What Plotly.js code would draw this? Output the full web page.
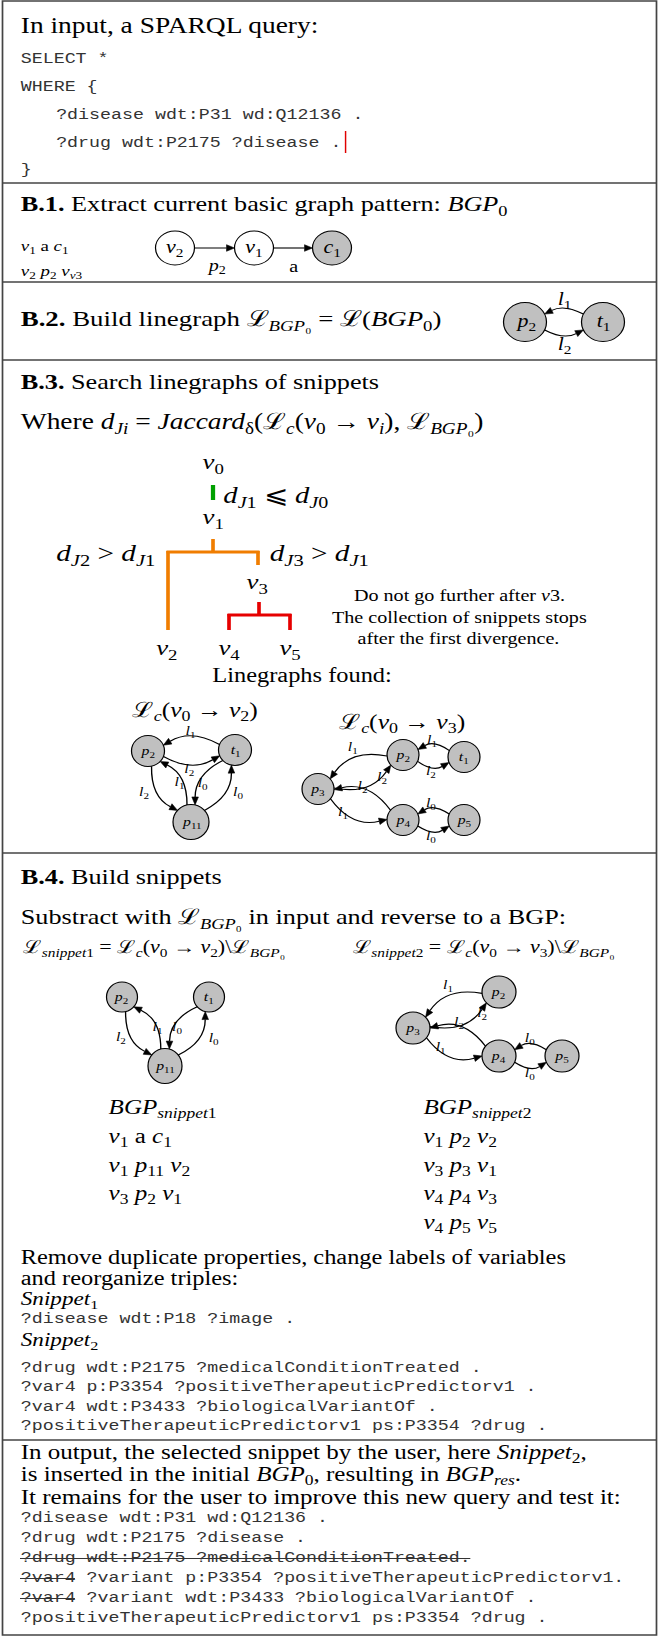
<!DOCTYPE html>
<html><head><meta charset="utf-8">
<script src="https://cdn.plot.ly/plotly-3.0.1.min.js"></script>
<style>
html,body{margin:0;padding:0;background:#fff;}
#wrap{width:659px;height:1636px;overflow:hidden;}
#plot{width:540px;height:1636px;transform:scaleX(1.22037);transform-origin:0 0;}
</style></head><body><div id="wrap"><div id="plot"></div></div>
<script>
// ---------------- data (text content, graph structure) ----------------
const inputHeading = "In input, a SPARQL query:";
const inputQuery = ["SELECT *", "WHERE {", "?disease wdt:P31 wd:Q12136 .", "?drug wdt:P2175 ?disease .", "}"];
const inputIndent = [0, 0, 1, 1, 0];

const headB1 = "<b>B.1.</b> Extract current basic graph pattern: <i>BGP</i><sub>0</sub>";
const bgp0Triples = ["<i>v</i><sub>1</sub> a <i>c</i><sub>1</sub>", "<i>v</i><sub>2</sub> <i>p</i><sub>2</sub> <i>v</i><sub><i>v</i>3</sub>"];
const bgp0Nodes = ["v2", "v1", "c1"];
const bgp0Edges = [["v2", "v1", "p2"], ["v1", "c1", "a"]];

const headB2 = "<b>B.2.</b> Build linegraph ℒ<sub><i>BGP</i>₀</sub> = ℒ(<i>BGP</i><sub>0</sub>)";
const lgB2Nodes = ["p2", "t1"];
const lgB2Edges = [["t1", "p2", "l1"], ["p2", "t1", "l2"]];

const headB3 = "<b>B.3.</b> Search linegraphs of snippets";
const whereLine = "Where <i>d</i><sub><i>Ji</i></sub> = <i>Jaccard</i><sub>δ</sub>(ℒ<sub><i>c</i></sub>(<i>v</i><sub>0</sub> → <i>v</i><sub><i>i</i></sub>), ℒ<sub><i>BGP</i>₀</sub>)";
const treeVertices = ["v0", "v1", "v3", "v2", "v4", "v5"];
const treeConditions = ["<i>d</i><sub><i>J</i>1</sub> ⩽ <i>d</i><sub><i>J</i>0</sub>",
                        "<i>d</i><sub><i>J</i>2</sub> > <i>d</i><sub><i>J</i>1</sub>",
                        "<i>d</i><sub><i>J</i>3</sub> > <i>d</i><sub><i>J</i>1</sub>"];
const noteLines = ["Do not go further after <i>v</i>3.", "The collection of snippets stops", "after the first divergence."];
const foundHeading = "Linegraphs found:";
const lgTitles = ["ℒ<sub><i>c</i></sub>(<i>v</i><sub>0</sub> → <i>v</i><sub>2</sub>)", "ℒ<sub><i>c</i></sub>(<i>v</i><sub>0</sub> → <i>v</i><sub>3</sub>)"];
const lg1Nodes = ["p2", "t1", "p11"];
const lg1Edges = [["t1", "p2", "l1"], ["p2", "t1", "l2"], ["p2", "p11", "l2"], ["p11", "p2", "l1"], ["t1", "p11", "l0"], ["p11", "t1", "l0"]];
const lg2Nodes = ["p2", "t1", "p3", "p4", "p5"];
const lg2Edges = [["p2", "p3", "l1"], ["p3", "p2", "l2"], ["t1", "p2", "l1"], ["p2", "t1", "l2"], ["p4", "p3", "l2"], ["p3", "p4", "l1"], ["p5", "p4", "l0"], ["p4", "p5", "l0"]];

const headB4 = "<b>B.4.</b> Build snippets";
const subtractLine = "Substract with ℒ<sub><i>BGP</i>₀</sub> in input and reverse to a BGP:";
const snippetFormulas = ["ℒ<sub><i>snippet</i>1</sub> = ℒ<sub><i>c</i></sub>(<i>v</i><sub>0</sub> → <i>v</i><sub>2</sub>)\\ℒ<sub><i>BGP</i>₀</sub>",
                         "ℒ<sub><i>snippet</i>2</sub> = ℒ<sub><i>c</i></sub>(<i>v</i><sub>0</sub> → <i>v</i><sub>3</sub>)\\ℒ<sub><i>BGP</i>₀</sub>"];
const snip1Nodes = ["p2", "t1", "p11"];
const snip1Edges = [["p2", "p11", "l2"], ["p11", "p2", "l1"], ["t1", "p11", "l0"], ["p11", "t1", "l0"]];
const snip2Nodes = ["p2", "p3", "p4", "p5"];
const snip2Edges = [["p2", "p3", "l1"], ["p3", "p2", "l2"], ["p4", "p3", "l2"], ["p3", "p4", "l1"], ["p5", "p4", "l0"], ["p4", "p5", "l0"]];
const bgpSnippet1 = ["<i>BGP</i><sub><i>snippet</i>1</sub>", "<i>v</i><sub>1</sub> a <i>c</i><sub>1</sub>",
                     "<i>v</i><sub>1</sub> <i>p</i><sub>11</sub> <i>v</i><sub>2</sub>", "<i>v</i><sub>3</sub> <i>p</i><sub>2</sub> <i>v</i><sub>1</sub>"];
const bgpSnippet2 = ["<i>BGP</i><sub><i>snippet</i>2</sub>", "<i>v</i><sub>1</sub> <i>p</i><sub>2</sub> <i>v</i><sub>2</sub>",
                     "<i>v</i><sub>3</sub> <i>p</i><sub>3</sub> <i>v</i><sub>1</sub>", "<i>v</i><sub>4</sub> <i>p</i><sub>4</sub> <i>v</i><sub>3</sub>",
                     "<i>v</i><sub>4</sub> <i>p</i><sub>5</sub> <i>v</i><sub>5</sub>"];

const removeLines = ["Remove duplicate properties, change labels of variables", "and reorganize triples:"];
const snippetNames = ["<i>Snippet</i><sub>1</sub>", "<i>Snippet</i><sub>2</sub>"];
const snippet1Query = ["?disease wdt:P18 ?image ."];
const snippet2Query = ["?drug wdt:P2175 ?medicalConditionTreated .", "?var4 p:P3354 ?positiveTherapeuticPredictorv1 .",
                       "?var4 wdt:P3433 ?biologicalVariantOf .", "?positiveTherapeuticPredictorv1 ps:P3354 ?drug ."];

const outputLines = ["In output, the selected snippet by the user, here <i>Snippet</i><sub>2</sub>,",
                     "is inserted in the initial <i>BGP</i><sub>0</sub>, resulting in <i>BGP</i><sub><i>res</i></sub>.",
                     "It remains for the user to improve this new query and test it:"];
const outputQuery = ["?disease wdt:P31 wd:Q12136 .", "?drug wdt:P2175 ?disease .", "?drug wdt:P2175 ?medicalConditionTreated.",
                     "?var4 ?variant p:P3354 ?positiveTherapeuticPredictorv1.", "?var4 ?variant wdt:P3433 ?biologicalVariantOf .",
                     "?positiveTherapeuticPredictorv1 ps:P3354 ?drug ."];
const outputStruckChars = [0, 0, 41, 5, 5, 0];

// ---------------- layout helpers ----------------
const SERIF = "Liberation Serif, Times New Roman, DejaVu Serif, serif";
const MONO = "Liberation Mono, Courier New, monospace";
const SX = 659 / 540;
const LX = 20;
const shapes = [], anns = [];

function T(x, y, text, size, o) {
  o = o || {};
  anns.push({x: x, y: y, xref: 'x', yref: 'y', text: text, showarrow: false,
    xanchor: o.anchor || 'left', yanchor: 'middle', align: 'left', borderpad: 0,
    font: {family: o.family || SERIF, size: size, color: o.color || '#000'}});
}
function L(x0, y0, x1, y1, color, w) {
  shapes.push({type: 'line', xref: 'x', yref: 'y', x0: x0, y0: y0, x1: x1, y1: y1, line: {color: color, width: w}});
}
function varHtml(id) {
  const m = id.match(/^([a-z]+)(\d*)$/);
  if (!m || !m[2]) return id;
  return '<i>' + m[1] + '</i><sub>' + m[2] + '</sub>';
}
function ePt(c, d) {
  const t = 1 / Math.sqrt(Math.pow(d[0] / c.rx, 2) + Math.pow(d[1] / c.ry, 2));
  return [c.x + d[0] * t, c.y + d[1] * t];
}
function addEdge(a, b, bend, thetaDeg) {
  const dx = b.x - a.x, dy = b.y - a.y, len = Math.hypot(dx, dy), ux = dx / len, uy = dy / len;
  const nx = -uy, ny = ux;
  const th = thetaDeg * Math.PI / 180, c = Math.cos(th), s = Math.sin(th);
  const P0 = ePt(a, [ux * c + nx * s, uy * c + ny * s]);
  const P2 = ePt(b, [-ux * c + nx * s, -uy * c + ny * s]);
  const C = [(P0[0] + P2[0]) / 2 + nx * bend * 2, (P0[1] + P2[1]) / 2 + ny * bend * 2];
  let tx = P2[0] - C[0], ty = P2[1] - C[1];
  const tl = Math.hypot(tx, ty); tx /= tl; ty /= tl;
  const al = 8, aw = 3.3;
  const B = [P2[0] - tx * al, P2[1] - ty * al];
  shapes.push({type: 'path', xref: 'x', yref: 'y',
    path: 'M' + P0[0] + ',' + P0[1] + ' Q' + C[0] + ',' + C[1] + ' ' + B[0] + ',' + B[1],
    line: {color: '#000', width: 1.1}});
  shapes.push({type: 'path', xref: 'x', yref: 'y',
    path: 'M' + P2[0] + ',' + P2[1] + ' L' + (B[0] - ty * aw) + ',' + (B[1] + tx * aw) + ' L' + (B[0] + ty * aw) + ',' + (B[1] - tx * aw) + ' Z',
    fillcolor: '#000', line: {color: '#000', width: 0.5}});
}
function drawGraph(nodes, edges, pos, bends, labelPos, nodeFs, labelFs) {
  nodes.forEach(function (n) {
    const p = pos[n];
    shapes.push({type: 'circle', xref: 'x', yref: 'y', x0: p.x - p.rx, x1: p.x + p.rx, y0: p.y - p.ry, y1: p.y + p.ry,
      fillcolor: p.fill || '#c0c0c0', line: {color: '#000', width: 1}});
    T(p.x, p.y, varHtml(n), p.fs || nodeFs, {anchor: 'center'});
  });
  edges.forEach(function (e, i) {
    addEdge(pos[e[0]], pos[e[1]], bends[i][0], bends[i][1]);
    T(labelPos[i][0], labelPos[i][1], varHtml(e[2]), labelFs, {anchor: 'center'});
  });
}

// ---------------- frame ----------------
shapes.push({type: 'rect', xref: 'x', yref: 'y', x0: 2.5, x1: 656.5, y0: 1, y1: 1635, line: {color: '#444', width: 1.4}});
[183, 282, 360, 853, 1440].forEach(function (y) { L(2.5, y, 656.5, y, '#444', 1.4); });

// ---------------- input ----------------
T(LX, 25, inputHeading, 22.5);
const inputY = [59, 87, 115, 143, 170];
inputQuery.forEach(function (s, i) { T(inputIndent[i] ? 55 : LX, inputY[i], s, 15, {family: MONO, color: '#333'}); });
const cw = 15 * 0.6 * SX;
const cursorX = 55 + inputQuery[3].length * cw + 5;
L(cursorX, 131, cursorX, 153, '#e00000', 1.2);

// ---------------- B.1 ----------------
T(LX, 205, headB1, 21.5);
T(LX, 246, bgp0Triples[0], 15.5);
T(LX, 271, bgp0Triples[1], 15.5);
const posB1 = {v2: {x: 175, y: 248, rx: 19.5, ry: 17, fill: '#fff'}, v1: {x: 254, y: 248, rx: 19.5, ry: 17, fill: '#fff'},
               c1: {x: 332, y: 248, rx: 19.5, ry: 17, fill: '#c0c0c0'}};
drawGraph(bgp0Nodes, bgp0Edges, posB1, [[0, 0], [0, 0]], [[216, 266], [294, 266]], 18, 16.5);

// ---------------- B.2 ----------------
T(LX, 320, headB2, 22);
const posB2 = {p2: {x: 525, y: 322, rx: 21.5, ry: 19.5}, t1: {x: 603, y: 322, rx: 21.5, ry: 19.5}};
drawGraph(lgB2Nodes, lgB2Edges, posB2, [[5, 22], [5, 22]], [[564, 300], [564, 345]], 18, 18);

// ---------------- B.3 ----------------
T(LX, 382, headB3, 21.5);
T(LX, 423, whereLine, 22.5);
const treeX = {v0: 213, v1: 213, v3: 258, v2: 166, v4: 229, v5: 290};
const treeY = {v0: 463, v1: 518, v3: 583, v2: 649, v4: 649, v5: 649};
treeVertices.forEach(function (v) { T(treeX[v], treeY[v], varHtml(v), 22, {anchor: 'center'}); });
L(213, 485, 213, 500, '#00a000', 3.5);
T(222, 497, treeConditions[0], 23.5);
const OR = '#f07d00', RD = '#e60000';
L(213, 539, 213, 552, OR, 3); L(166.5, 552, 259.5, 552, OR, 3);
L(168, 551, 168, 630, OR, 3); L(258, 551, 258, 565, OR, 3);
T(156, 555, treeConditions[1], 24, {anchor: 'right'});
T(268, 555, treeConditions[2], 24);
L(259, 602, 259, 615, RD, 3); L(227.5, 615, 291.5, 615, RD, 3);
L(229, 614, 229, 630, RD, 3); L(290, 614, 290, 630, RD, 3);
noteLines.forEach(function (s, i) { T(459, [595, 617, 638][i], s, 16.5, {anchor: 'center'}); });
T(302, 675, foundHeading, 20, {anchor: 'center'});
T(195, 711, lgTitles[0], 21, {anchor: 'center'});
T(402, 723, lgTitles[1], 21, {anchor: 'center'});
const posLG1 = {p2: {x: 148, y: 751, rx: 16.5, ry: 15.5}, t1: {x: 235, y: 750, rx: 16.5, ry: 15.5}, p11: {x: 191, y: 822, rx: 18, ry: 17.5}};
drawGraph(lg1Nodes, lg1Edges, posLG1, [[8, 20], [8, 20], [8, 18], [8, 18], [8, 18], [8, 18]],
  [[190, 731], [190, 769], [144, 792], [179, 782], [203, 783], [238, 792]], 13, 13);
const posLG2 = {p2: {x: 403, y: 755, rx: 16, ry: 15.5}, t1: {x: 464, y: 757, rx: 16, ry: 15.5}, p3: {x: 318, y: 789, rx: 16, ry: 15.5},
                p4: {x: 403, y: 820, rx: 16, ry: 15.5}, p5: {x: 464, y: 820, rx: 16, ry: 15.5}};
drawGraph(lg2Nodes, lg2Edges, posLG2, [[10, 18], [10, 18], [5, 22], [5, 22], [10, 18], [10, 18], [5, 22], [5, 22]],
  [[353, 747], [383, 777], [432, 740], [432, 771], [363, 786], [343, 812], [432, 803], [432, 836]], 13, 13);

// ---------------- B.4 ----------------
T(LX, 877, headB4, 21.5);
T(LX, 918, subtractLine, 21.5);
T(22, 948, snippetFormulas[0], 18);
T(352, 948, snippetFormulas[1], 18);
const posS1 = {p2: {x: 122, y: 997, rx: 15.5, ry: 15}, t1: {x: 209, y: 997, rx: 15.5, ry: 15}, p11: {x: 165, y: 1066, rx: 17, ry: 17.5}};
drawGraph(snip1Nodes, snip1Edges, posS1, [[8, 18], [8, 18], [8, 18], [8, 18]],
  [[121, 1037], [157, 1027], [178, 1027], [214, 1038]], 13, 13);
const posS2 = {p2: {x: 499, y: 992, rx: 17, ry: 16}, p3: {x: 413, y: 1028, rx: 17, ry: 16}, p4: {x: 499, y: 1056, rx: 17, ry: 16},
               p5: {x: 562, y: 1056, rx: 17, ry: 16}};
drawGraph(snip2Nodes, snip2Edges, posS2, [[10, 18], [10, 18], [10, 18], [10, 18], [5, 22], [5, 22]],
  [[448, 985], [483, 1013], [460, 1022], [440, 1047], [530, 1038], [530, 1073]], 13, 13);
const bgpY = [1108, 1137, 1166, 1194, 1223];
bgpSnippet1.forEach(function (s, i) { T(107, bgpY[i], s, 20.5); });
bgpSnippet2.forEach(function (s, i) { T(422, bgpY[i], s, 20.5); });

// ---------------- remove duplicates ----------------
T(LX, 1257, removeLines[0], 20);
T(LX, 1278, removeLines[1], 20);
T(LX, 1300, snippetNames[0], 19);
T(LX, 1319, snippet1Query[0], 15, {family: MONO, color: '#333'});
T(LX, 1341, snippetNames[1], 19);
snippet2Query.forEach(function (s, i) { T(LX, 1368 + i * 19.5, s, 15, {family: MONO, color: '#333'}); });

// ---------------- output ----------------
outputLines.forEach(function (s, i) { T(LX, 1453 + i * 22, s, 20.5); });
outputQuery.forEach(function (s, i) {
  const y = 1518 + i * 20;
  T(LX, y, s, 15, {family: MONO, color: '#333'});
  if (outputStruckChars[i]) L(LX, y + 0.5, LX + outputStruckChars[i] * cw, y + 0.5, '#333', 1);
});

const layout = {
  width: 540, height: 1636, margin: {l: 0, r: 0, t: 0, b: 0},
  paper_bgcolor: '#fff', plot_bgcolor: '#fff', showlegend: false,
  xaxis: {range: [0, 659], visible: false, fixedrange: true},
  yaxis: {range: [1636, 0], visible: false, fixedrange: true},
  shapes: shapes, annotations: anns
};
Plotly.newPlot('plot', [], layout, {staticPlot: true, displayModeBar: false});
</script></body></html>
